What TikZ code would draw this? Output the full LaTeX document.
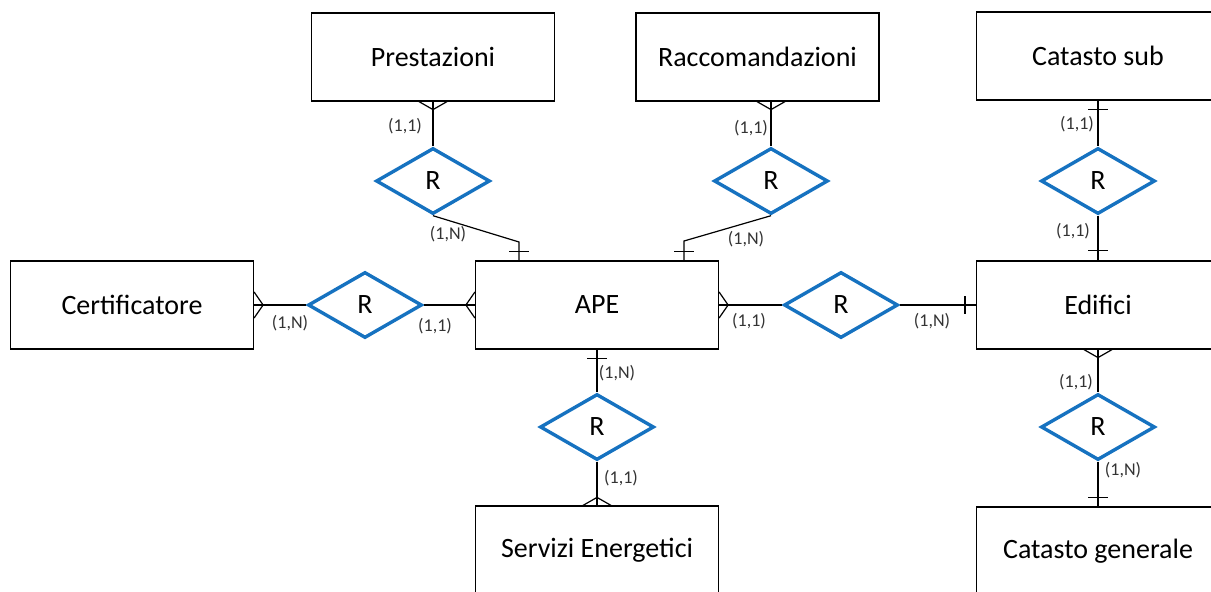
\documentclass[tikz,border=0pt]{standalone}
\usepackage{fontspec}
\setmainfont{Carlito}
\usetikzlibrary{shapes.geometric}
\definecolor{relblue}{RGB}{22,114,192}

\begin{document}
\begin{tikzpicture}[x=1pt,y=-1pt,line cap=butt,line join=miter,
    entity/.style={draw,line width=1.2pt,minimum width=243,minimum height=88,inner sep=0pt,
        font=\fontsize{28}{32}\selectfont},
    rel/.style={diamond,draw=relblue,line width=3.4pt,minimum width=114,minimum height=66,inner sep=0pt,
        font=\fontsize{28}{32}\selectfont},
    card/.style={font=\fontsize{18}{20}\selectfont,text=black!80,inner sep=0pt},
    link/.style={line width=1.2pt}]
        \useasboundingbox (0,0) rectangle (1211,592);
        \clip (0,0) rectangle (1211,592);
        % entities
        \node[entity] (pre) at (433,57) {Prestazioni};
        \node[entity] (rac) at (757.5,57) {Raccomandazioni};
        \node[entity] (csub) at (1098,56) {Catasto sub};
        \node[entity] (cert) at (132,305) {Certificatore};
        \node[entity] (ape) at (597,305) {APE};
        \node[entity] (edi) at (1098,305) {Edifici};
        \node[entity] (serv) at (597,550) {Servizi Energetici};
        \node[entity] (cgen) at (1098,551) {Catasto generale};
        % relations
        \node[rel] (d1) at (433,181) {R};
        \node[rel] (d2) at (771,181) {R};
        \node[rel] (d3) at (1098,181) {R};
        \node[rel] (d4) at (365,305) {R};
        \node[rel] (d5) at (841,305) {R};
        \node[rel] (d6) at (597,427) {R};
        \node[rel] (d7) at (1098,427) {R};
        \coordinate (k1) at (519,242);
        \coordinate (k2) at (684,241);
        % links
        \draw[link] (pre) -- (d1);
        \draw[link] (d1.south) -- (k1) -- (k1 |- ape.north);
        \draw[link] (d2.north) -- (d2.north |- rac.south);
        \draw[link] (d2.south) -- (k2) -- (k2 |- ape.north);
        \draw[link] (csub) -- (d3);
        \draw[link] (d3) -- (edi);
        \draw[link] (cert) -- (d4);
        \draw[link] (d4) -- (ape);
        \draw[link] (ape) -- (d5);
        \draw[link] (d5) -- (edi);
        \draw[link] (ape) -- (d6);
        \draw[link] (d6) -- (serv);
        \draw[link] (edi) -- (d7);
        \draw[link] (d7) -- (cgen);
        % crow's feet
        \draw[link] (pre.south) ++(-14,0) -- ++(14,8) -- ++(14,-8);
        \draw[link] (d2.north |- rac.south) ++(-14,0) -- ++(14,8) -- ++(14,-8);
        \draw[link] (cert.east) ++(0,-13) -- ++(9,13) -- ++(-9,13);
        \draw[link] (ape.west) ++(0,-13) -- ++(-9,13) -- ++(9,13);
        \draw[link] (ape.east) ++(0,-13) -- ++(9,13) -- ++(-9,13);
        \draw[link] (edi.south) ++(-14,0) -- ++(14,8) -- ++(14,-8);
        \draw[link] (serv.north) ++(-14,0) -- ++(14,-8) -- ++(14,8);
        % bars
        \draw[link] (k1 |- ape.north) ++(-10,-9) -- ++(20,0);
        \draw[link] (k2 |- ape.north) ++(-10,-9) -- ++(20,0);
        \draw[link] (csub.south) ++(-10,9) -- ++(20,0);
        \draw[link] (edi.north) ++(-10,-10) -- ++(20,0);
        \draw[link] (edi.west) ++(-11,-9) -- ++(0,18);
        \draw[link] (ape.south) ++(-10,9) -- ++(20,0);
        \draw[link] (cgen.north) ++(-10,-9) -- ++(20,0);
        % cardinalities
        \node[card] (c1) at (405,126) {(1,1)};
        \node[card] (c2) at (448,234) {(1,N)};
        \node[card] (c3) at (751,128) {(1,1)};
        \node[card] (c4) at (746,239) {(1,N)};
        \node[card] (c5) at (290,323) {(1,N)};
        \node[card] (c6) at (435,326) {(1,1)};
        \node[card] (c7) at (749,321) {(1,1)};
        \node[card] (c8) at (932,321) {(1,N)};
        \node[card] (c9) at (617,373) {(1,N)};
        \node[card] (c10) at (621,478) {(1,1)};
        \node[card] (c11) at (1077,124) {(1,1)};
        \node[card] (c12) at (1073,231) {(1,1)};
        \node[card] (c13) at (1076,382) {(1,1)};
        \node[card] (c14) at (1123,470) {(1,N)};
\end{tikzpicture}
\end{document}
